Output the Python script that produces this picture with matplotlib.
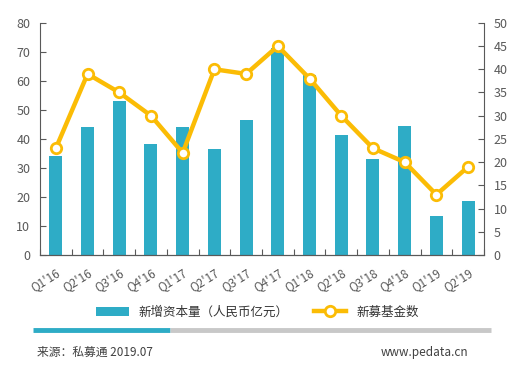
import numpy as np
import matplotlib.pyplot as plt
from matplotlib.lines import Line2D

plt.rcParams['font.family'] = ['Noto Sans CJK SC', 'DejaVu Sans']

quarters = ["Q1'16", "Q2'16", "Q3'16", "Q4'16", "Q1'17", "Q2'17", "Q3'17",
            "Q4'17", "Q1'18", "Q2'18", "Q3'18", "Q4'18", "Q1'19", "Q2'19"]
capital = [34, 44, 53, 38.3, 44, 36.6, 46.6, 71.5, 62, 41.4, 33.1, 44.5, 13.4, 18.6]
funds = [23, 39, 35, 30, 22, 40, 39, 45, 38, 30, 23, 20, 13, 19]

teal = '#2eacc6'
gold = '#fbbc05'
grey = '#595959'

fig = plt.figure(figsize=(5.15, 3.87), dpi=100)
ax = fig.add_axes([0.0777, 0.341, 0.862, 0.60])
ind = np.arange(len(quarters))

bars = ax.bar(ind, capital, 0.41, color=teal, zorder=2)
ax.set_xlim(-0.5, len(quarters) - 0.5)
ax.set_ylim(0, 80)
ax.set_yticks(range(0, 81, 10))

ax2 = ax.twinx()
line, = ax2.plot(ind, funds, color=gold, lw=3.2, marker='o', markersize=7.5,
                 markerfacecolor='white', markeredgecolor=gold, markeredgewidth=2, zorder=3)
ax2.set_ylim(0, 50)
ax2.set_yticks(range(0, 51, 5))

# category boundary ticks on x
ax.set_xticks(np.arange(-0.5, len(quarters), 1))
ax.set_xticklabels([])
ax.set_xticks(ind, minor=True)
ax.set_xticklabels(quarters, minor=True, rotation=32, ha='right', rotation_mode='anchor')
ax.tick_params(axis='x', which='minor', length=0, pad=8, labelsize=8.5, labelcolor=grey)
ax.tick_params(axis='x', which='major', length=4, color=grey, direction='in')

for a in (ax, ax2):
    a.spines['top'].set_visible(False)
    for s in ('left', 'right', 'bottom'):
        a.spines[s].set_color(grey)
    a.tick_params(axis='y', labelsize=9, labelcolor=grey, color=grey, length=4,
                  direction='in', pad=7)
ax.spines['right'].set_visible(False)
ax2.spines['left'].set_visible(False)

fig.legend([bars, line], ['新增资本量（人民币亿元）', '新募基金数'], loc='center',
           bbox_to_anchor=(0.5, 0.193), ncol=2, frameon=False, fontsize=9,
           handlelength=2.6, columnspacing=2.0, labelcolor='#333333')

# decorative bar under legend
fig.add_artist(Line2D([0.064, 0.33], [0.147, 0.147], color=teal, lw=3.5,
                      transform=fig.transFigure, solid_capstyle='butt'))
fig.add_artist(Line2D([0.33, 0.953], [0.147, 0.147], color='#c8c8c8', lw=3.5,
                      transform=fig.transFigure, solid_capstyle='butt'))

fig.text(0.072, 0.09, '来源：私募通 2019.07', fontsize=8.5, color='#404040', va='center')
fig.text(0.91, 0.09, 'www.pedata.cn', fontsize=8.5, color='#404040', va='center', ha='right')

fig.savefig('out.png', dpi=100)
